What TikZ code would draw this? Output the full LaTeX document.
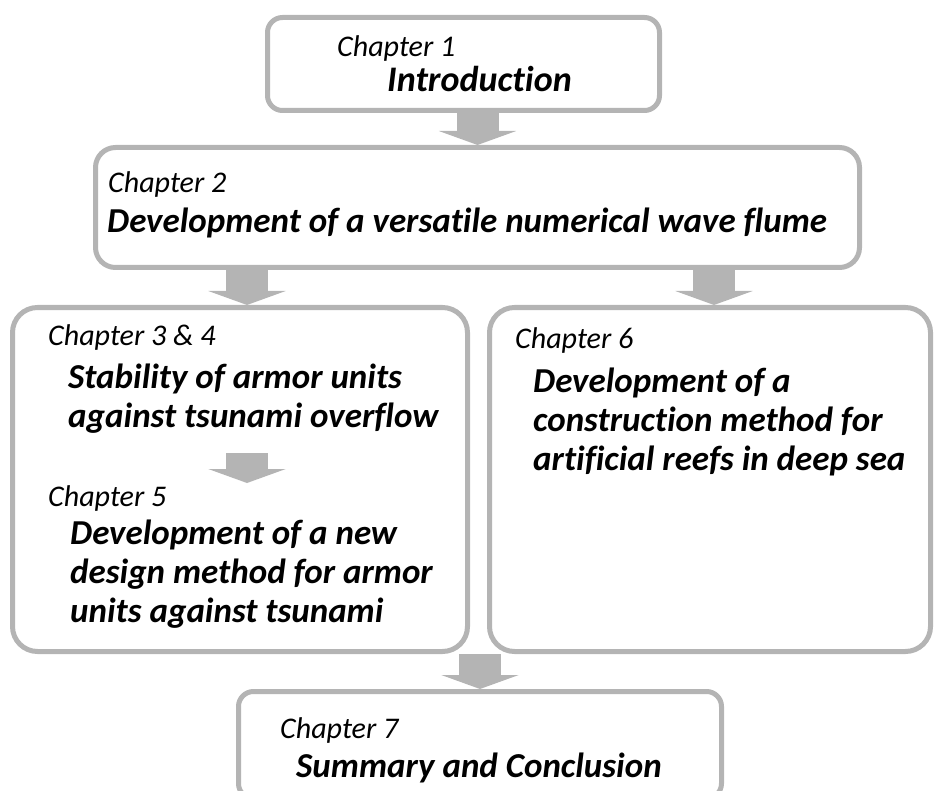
\documentclass[tikz,border=0pt]{standalone}
\usepackage{fontspec}
\setmainfont{Carlito}[Ligatures=NoCommon]
\usetikzlibrary{arrows.meta}
\definecolor{framegray}{RGB}{180,180,180}
\begin{document}
\begin{tikzpicture}[
    x=1pt, y=-1pt,
    chapbox/.style={rectangle, draw=framegray, line width=5pt, fill=white, inner sep=0pt},
    chaplabel/.style={anchor=base west, inner sep=0pt, font=\itshape\fontsize{30}{36}\selectfont},
    chaptitle/.style={anchor=base west, inner sep=0pt, align=left, font=\bfseries\itshape\fontsize{35}{39}\selectfont},
    flow/.style={framegray, line width=42pt, -{Triangle[width=77pt, length=14pt]}}
]
\useasboundingbox (0,0) rectangle (936,791);

% Arrow positions
\coordinate (left) at (247,0);
\coordinate (right) at (714,0);
\coordinate (inner top) at (247,453);
\coordinate (inner tip) at (247,483);

% Boxes
\node[chapbox, rounded corners=15pt, minimum width=392pt, minimum height=93pt] (intro) at (463.5,64) {};
\node[chapbox, rounded corners=20pt, minimum width=764pt, minimum height=120pt] (flume) at (477.5,207.5) {};
\node[chapbox, rounded corners=25pt, minimum width=455pt, minimum height=344pt] (armor) at (240,479.5) {};
\node[chapbox, rounded corners=25pt, minimum width=441pt, minimum height=344pt] (reef) at (710,479.5) {};
\node[chapbox, rounded corners=15pt, minimum width=483pt, minimum height=107pt] (summary) at (480,745) {};

% Arrows
\draw[flow] (flume.north |- intro.south) -- (flume.north);
\draw[flow] (left |- flume.south) -- (left |- armor.north);
\draw[flow] (right |- flume.south) -- (right |- reef.north);
\draw[flow] (inner top) -- (inner tip);
\draw[flow] (summary.north |- armor.south) -- (summary.north);

% Texts (multi-line titles sit on the baseline of their last line)
\node[chaplabel] (intro chap) at (337,57) {Chapter 1};
\node[chaptitle, font=\bfseries\itshape\fontsize{36}{39}\selectfont] (intro title) at (387,92) {Introduction};

\node[chaplabel] (flume chap) at (108,193) {Chapter 2};
\node[chaptitle] (flume title) at (107,233) {Development of a versatile numerical wave flume};

\node[chaplabel] (armor chap) at (48,345) {Chapter 3 \& 4};
\node[chaptitle] (armor title) at (68,427) {Stability of armor units\\against tsunami overflow};

\node[chaplabel] (design chap) at (48,506) {Chapter 5};
\node[chaptitle] (design title) at (70,622) {Development of a new\\design method for armor\\units against tsunami};

\node[chaplabel] (reef chap) at (515,348) {Chapter 6};
\node[chaptitle] (reef title) at (533,470) {Development of a\\construction method for\\artificial reefs in deep sea};

\node[chaplabel] (summary chap) at (280,738) {Chapter 7};
\node[chaptitle] (summary title) at (296,777) {Summary and Conclusion};

\end{tikzpicture}
\end{document}
